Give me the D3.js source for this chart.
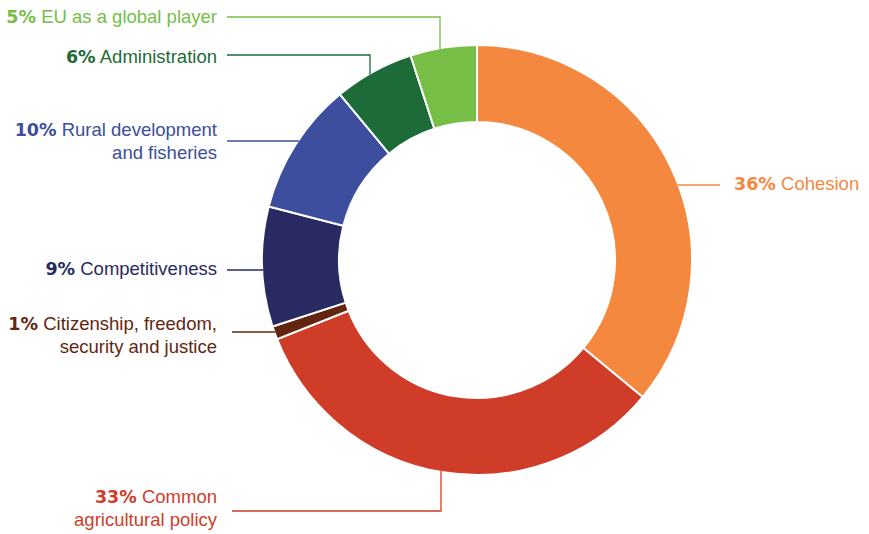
<!DOCTYPE html>
<html><head><meta charset="utf-8">
<script src="https://cdn.jsdelivr.net/npm/d3@7"></script>
<style>
html,body{margin:0;padding:0;background:#fff;}
svg{display:block;font-family:"Liberation Sans",Arial,sans-serif;}
</style></head>
<body><svg id="c" width="869" height="534"></svg>
<script>
const categories = ["Cohesion","Common agricultural policy","Citizenship, freedom, security and justice","Competitiveness","Rural development and fisheries","Administration","EU as a global player"];
const values = [36,33,1,9,10,6,5];
const colors = ["#F5883F","#CF3D29","#622610","#292A62","#3C4E9D","#1D6B38","#76BE46"];
const labelLines = [["Cohesion"],["Common","agricultural policy"],["Citizenship, freedom,","security and justice"],["Competitiveness"],["Rural development","and fisheries"],["Administration"],["EU as a global player"]];

const W=869,H=534, cx=477, cy=260, R=215, r=138, fs=18.5, lh=22.5;
const svg=d3.select("#c");
const g=svg.append("g").attr("transform",`translate(${cx},${cy})`);
const pie=d3.pie().sort(null).value(d=>d)(values);
const arc=d3.arc().innerRadius(r).outerRadius(R);
g.selectAll("path").data(pie).enter().append("path")
 .attr("d",arc).attr("fill",(d,i)=>colors[i]).attr("stroke","#fff").attr("stroke-width",2);

const layout = [
 {kind:"h", y:185, x2:720, tx:734, ty:184, anchor:"start"},
 {kind:"e", vx:441, y:511, x2:232, tx:217, ty:497, anchor:"end", bottom:true},
 {kind:"h", y:332, x2:232, tx:217, ty:324, anchor:"end"},
 {kind:"h", y:270, x2:227, tx:217, ty:269, anchor:"end"},
 {kind:"h", y:141, x2:227, tx:217, ty:130, anchor:"end"},
 {kind:"e", vx:370, y:55, x2:227, tx:217, ty:57, anchor:"end"},
 {kind:"e", vx:440, y:17, x2:227, tx:217, ty:17, anchor:"end"}
];
const lg=svg.append("g");
layout.forEach((L,i)=>{
  const c=colors[i];
  let pts;
  if(L.kind==="h"){
    const dx=Math.sqrt(R*R-(L.y-cy)**2);
    const xa = L.anchor==="start" ? cx+dx : cx-dx;
    pts=[[xa-(L.anchor==="start"?1:-1),L.y],[L.x2,L.y]];
  } else {
    const dy=Math.sqrt(R*R-(L.vx-cx)**2);
    const ya = L.bottom ? cy+dy-1 : cy-dy+1;
    pts=[[L.vx,ya],[L.vx,L.y],[L.x2,L.y]];
  }
  lg.append("polyline").attr("points",pts.map(p=>p.join(",")).join(" "))
    .attr("fill","none").attr("stroke",c).attr("stroke-width",1.3);
  const t=lg.append("text").attr("text-anchor",L.anchor).attr("font-size",fs).attr("fill",c);
  labelLines[i].forEach((line,j)=>{
    const ts=t.append("tspan").attr("x",L.tx).attr("y",L.ty+j*lh+fs*0.35);
    if(j===0){
      ts.append("tspan").attr("font-weight","bold").attr("font-family","'DejaVu Sans',sans-serif").attr("font-size",17.5).text(values[i]+"%");
      ts.append("tspan").text(" "+line);
    } else ts.text(line);
  });
});
</script></body></html>
